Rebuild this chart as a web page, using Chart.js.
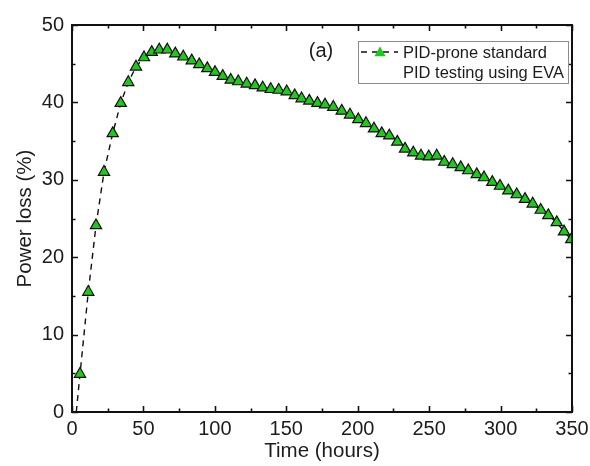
<!DOCTYPE html>
<html>
<head>
<meta charset="utf-8">
<script src="https://cdn.jsdelivr.net/npm/chart.js@4/dist/chart.umd.min.js"></script>
<style>
  html, body { margin: 0; padding: 0; background: #fff; }
  #wrap { width: 590px; height: 466px; }
</style>
</head>
<body>
<div id="wrap"><canvas id="c" width="590" height="466"></canvas></div>
<script>
// Power loss during PID testing (EVA encapsulant)
const hours = [3, 5.6, 11.4, 16.8, 22.4, 28.5, 34.1, 39.4, 44.8, 50.4, 55.8, 61.1, 66.7,
  72.3, 77.9, 83.8, 89.1, 94.7, 100.1, 105.5, 111.1, 116.4, 122.3, 128.1, 133.5, 139.1,
  144.7, 150.3, 155.9, 160.7, 166.1, 171.8, 177.1, 182.9, 188.8, 194.6, 200.4, 205.8,
  211.4, 216.8, 222.1, 227.7, 233.1, 238.9, 244.3, 249.7, 255.3, 260.6, 266.5, 272.1,
  277.4, 283.3, 288.4, 294.2, 299.6, 305.4, 311.3, 317.1, 322.5, 328.1, 333.4, 339.3,
  344.4, 349.5];
const powerLoss = [0, 4.9, 15.5, 24.1, 31.0, 36.0, 39.9, 42.6, 44.6, 45.8, 46.5, 46.8, 46.8,
  46.3, 45.9, 45.4, 44.9, 44.4, 43.9, 43.4, 42.9, 42.7, 42.4, 42.2, 41.9, 41.7,
  41.6, 41.4, 40.9, 40.5, 40.2, 39.9, 39.7, 39.4, 38.9, 38.4, 37.8, 37.3,
  36.6, 36.0, 35.7, 34.9, 34.0, 33.5, 33.1, 33.0, 33.1, 32.3, 32.0, 31.6,
  31.2, 30.7, 30.3, 29.7, 29.2, 28.6, 28.1, 27.5, 26.9, 26.1, 25.4, 24.5,
  23.3, 22.3];
const seriesLabel = ['PID-prone standard', 'PID testing using EVA'];
const panelTag = '(a)';
const xTicks = [0, 50, 100, 150, 200, 250, 300, 350];
const yTicks = [0, 10, 20, 30, 40, 50];
const xTitle = 'Time (hours)';
const yTitle = 'Power loss (%)';

const FONT = "'Liberation Sans', Arial, sans-serif";
const INK = '#1c1c1c';
const GREEN = '#22c61e';

const points = hours.map((h, i) => ({ x: h, y: powerLoss[i] }));

// Box frame with inward major/minor ticks on all four sides, panel tag and legend
const framePlugin = {
  id: 'frame',
  afterDatasetsDraw(chart) {
    const { ctx, chartArea: a, scales: { x, y } } = chart;
    ctx.save();
    ctx.strokeStyle = '#111';
    ctx.lineWidth = 1.6;
    const xStep = xTicks[1] - xTicks[0];
    const yStep = yTicks[1] - yTicks[0];
    for (let v = xTicks[0]; v <= xTicks[xTicks.length - 1] + 1e-9; v += xStep / 2) {
      const major = xTicks.includes(v);
      const len = major ? 6 : 3.5;
      const px = Math.round(x.getPixelForValue(v)) + 0.5;
      ctx.beginPath();
      ctx.moveTo(px, a.bottom); ctx.lineTo(px, a.bottom - len);
      ctx.moveTo(px, a.top); ctx.lineTo(px, a.top + len);
      ctx.stroke();
    }
    for (let v = yTicks[0]; v <= yTicks[yTicks.length - 1] + 1e-9; v += yStep / 2) {
      const major = yTicks.includes(v);
      const len = major ? 6 : 3.5;
      const py = Math.round(y.getPixelForValue(v)) + 0.5;
      ctx.beginPath();
      ctx.moveTo(a.left, py); ctx.lineTo(a.left + len, py);
      ctx.moveTo(a.right, py); ctx.lineTo(a.right - len, py);
      ctx.stroke();
    }
    ctx.lineWidth = 2;
    ctx.strokeRect(a.left, a.top, a.right - a.left, a.bottom - a.top);

    // panel tag
    ctx.fillStyle = INK;
    ctx.font = '20px ' + FONT;
    ctx.textAlign = 'center';
    ctx.textBaseline = 'middle';
    ctx.fillText(panelTag, a.right - 251, a.top + 26);

    // legend
    const ds = chart.data.datasets[0];
    const bx = a.right - 214, by = a.top + 16, bw = 210, bh = 42;
    ctx.lineWidth = 1;
    ctx.strokeStyle = '#8c8c8c';
    ctx.strokeRect(bx + 0.5, by + 0.5, bw, bh);
    const sy = by + 11;
    ctx.strokeStyle = ds.borderColor;
    ctx.lineWidth = ds.borderWidth;
    ctx.setLineDash(ds.borderDash);
    ctx.beginPath();
    ctx.moveTo(bx + 3, sy); ctx.lineTo(bx + 40, sy);
    ctx.stroke();
    ctx.setLineDash([]);
    ctx.fillStyle = ds.pointBackgroundColor;
    ctx.strokeStyle = ds.pointBorderColor;
    ctx.lineWidth = ds.pointBorderWidth;
    Chart.helpers.drawPoint(ctx, { pointStyle: 'triangle', radius: 6.5, rotation: 0 }, bx + 22, sy + 1);
    ctx.fillStyle = INK;
    ctx.font = '16.5px ' + FONT;
    ctx.textAlign = 'left';
    ctx.fillText(ds.label[0], bx + 45, by + 12);
    ctx.fillText(ds.label[1], bx + 45, by + 32);
    ctx.restore();
  }
};

new Chart(document.getElementById('c'), {
  type: 'line',
  data: {
    datasets: [{
      label: seriesLabel,
      data: points,
      borderColor: '#111',
      borderWidth: 1.4,
      borderDash: [6, 5],
      pointStyle: 'triangle',
      pointRadius: c => (c.raw && c.raw.y === 0 ? 0 : 6.5),
      pointHoverRadius: c => (c.raw && c.raw.y === 0 ? 0 : 6.5),
      pointBackgroundColor: GREEN,
      pointBorderColor: '#111',
      pointBorderWidth: 1.2,
      tension: 0,
      clip: { left: 10, top: 10, right: 0, bottom: 0 }
    }]
  },
  options: {
    responsive: false,
    animation: false,
    events: [],
    layout: { padding: { left: 0, top: 25, right: 18, bottom: 0 } },
    plugins: { legend: { display: false }, tooltip: { enabled: false } },
    scales: {
      x: {
        type: 'linear',
        min: xTicks[0], max: xTicks[xTicks.length - 1],
        afterFit: s => { s.height = 54; s.paddingLeft = 0; s.paddingRight = 0; },
        afterBuildTicks: s => { s.ticks = xTicks.map(v => ({ value: v })); },
        grid: { display: false, drawTicks: false },
        border: { display: false },
        ticks: { color: INK, font: { family: FONT, size: 20 }, padding: 5, maxRotation: 0 },
        title: { display: true, text: xTitle, color: INK, font: { family: FONT, size: 20.5 }, padding: { top: 0, bottom: 2 } }
      },
      y: {
        min: yTicks[0], max: yTicks[yTicks.length - 1],
        afterFit: s => { s.width = 72; s.paddingTop = 0; s.paddingBottom = 0; },
        afterBuildTicks: s => { s.ticks = yTicks.map(v => ({ value: v })); },
        grid: { display: false, drawTicks: false },
        border: { display: false },
        ticks: { color: INK, font: { family: FONT, size: 20 }, padding: 8 },
        title: { display: true, text: yTitle, color: INK, font: { family: FONT, size: 20.5 }, padding: { top: 13, bottom: 0 } }
      }
    }
  },
  plugins: [framePlugin]
});
</script>
</body>
</html>
